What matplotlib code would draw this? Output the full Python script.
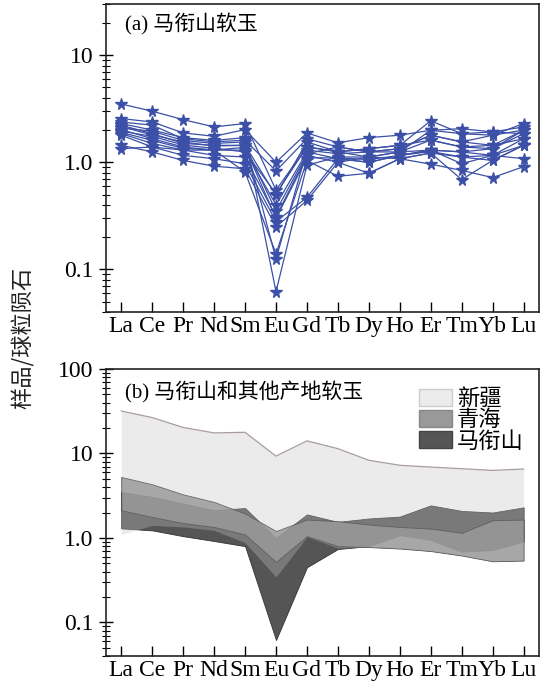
import matplotlib.pyplot as plt
from matplotlib.patches import Patch
from matplotlib.ticker import FixedLocator, FixedFormatter, LogLocator, NullFormatter

plt.rcParams['font.family'] = ['Liberation Serif', 'Noto Sans CJK SC']

elements = ["La", "Ce", "Pr", "Nd", "Sm", "Eu", "Gd", "Tb", "Dy", "Ho", "Er", "Tm", "Yb", "Lu"]

# (a) 马衔山软玉 sample values (chondrite normalized)
samples = [
    [3.5, 3.0, 2.5, 2.14, 2.3, 0.55, 1.4, 1.25, 1.34, 1.44, 2.44, 1.85, 1.79, 2.3],
    [2.56, 2.38, 1.88, 1.75, 2.02, 1.0, 1.88, 1.52, 1.7, 1.79, 1.99, 2.06, 1.92, 2.14],
    [2.38, 2.22, 1.66, 1.55, 1.61, 0.83, 1.66, 1.39, 1.25, 1.34, 1.79, 1.55, 1.44, 1.99],
    [2.22, 1.85, 1.5, 1.44, 1.44, 0.49, 1.55, 1.25, 1.12, 1.25, 1.61, 1.39, 1.34, 1.85],
    [2.02, 1.66, 1.39, 1.3, 1.3, 0.4, 1.25, 1.08, 1.0, 1.16, 1.3, 1.25, 1.16, 1.66],
    [1.85, 1.5, 1.3, 1.16, 1.12, 0.31, 1.16, 1.0, 1.12, 1.08, 1.22, 1.12, 1.04, 1.44],
    [1.79, 1.39, 1.16, 1.08, 0.97, 0.28, 0.47, 1.08, 1.0, 1.16, 1.3, 0.97, 1.16, 1.08],
    [1.44, 1.25, 1.04, 0.92, 0.87, 0.25, 0.44, 1.0, 0.79, 1.08, 0.96, 0.84, 0.72, 0.91],
    [1.34, 1.39, 1.3, 1.3, 0.81, 0.14, 1.04, 0.74, 0.79, 1.08, 1.22, 0.69, 1.04, 1.44],
    [2.1, 1.95, 1.6, 1.5, 1.55, 0.125, 1.3, 1.2, 1.25, 1.34, 1.79, 1.55, 1.79, 2.0],
    [2.3, 2.0, 1.7, 1.6, 1.7, 0.062, 0.94, 1.12, 1.12, 1.25, 1.99, 1.85, 1.92, 1.85],
    [1.95, 1.75, 1.45, 1.35, 1.25, 0.51, 1.39, 1.25, 1.34, 1.44, 1.61, 1.39, 1.44, 1.66],
    [2.15, 1.8, 1.55, 1.42, 1.44, 0.35, 1.2, 1.39, 1.25, 1.25, 1.3, 1.25, 1.34, 1.99],
    [1.9, 1.6, 1.35, 1.3, 1.38, 0.3, 1.1, 1.1, 1.06, 1.16, 1.26, 1.12, 1.16, 1.44],
]

# (b) ranges
xinjiang_hi = [31.8, 26.6, 20.3, 17.5, 17.8, 9.3, 14.1, 11.4, 8.3, 7.25, 6.9, 6.6, 6.3, 6.55]
xinjiang_lo = [1.10, 1.41, 1.35, 1.23, 0.88, 0.345, 1.03, 0.76, 0.78, 0.75, 0.70, 0.62, 0.53, 0.54]
qinghai_hi = [5.27, 4.32, 3.28, 2.67, 1.95, 1.21, 1.65, 1.58, 1.44, 1.35, 1.29, 1.15, 1.62, 1.65]
qinghai_lo = [2.13, 1.77, 1.50, 1.35, 1.10, 0.52, 1.05, 0.80, 0.78, 0.75, 0.70, 0.62, 0.53, 0.54]
maxianshan_hi = [3.5, 3.06, 2.55, 2.13, 2.26, 1.0, 1.9, 1.55, 1.70, 1.79, 2.43, 2.09, 2.0, 2.3]
maxianshan_lo = [1.3, 1.23, 1.05, 0.92, 0.80, 0.062, 0.45, 0.74, 0.80, 1.08, 0.95, 0.69, 0.72, 0.91]

x = list(range(len(elements)))
blue = "#3b50a6"


def style_axis(ax, ymax, yticks, ylabels):
    ax.set_yscale("log")
    ax.set_xlim(-0.5, 13.5)
    ax.set_ylim(0.04, ymax)
    ax.set_xticks(x)
    ax.set_xticklabels(elements)
    ax.yaxis.set_major_locator(FixedLocator(yticks))
    ax.yaxis.set_major_formatter(FixedFormatter(ylabels))
    ax.yaxis.set_minor_locator(LogLocator(base=10, subs=range(2, 10)))
    ax.yaxis.set_minor_formatter(NullFormatter())
    ax.tick_params(axis="x", direction="in", length=7, width=1, labelsize=17, pad=3, top=False)
    ax.tick_params(axis="y", which="major", direction="inout", length=10, width=1, labelsize=17, pad=4, right=False)
    ax.tick_params(axis="y", which="minor", direction="inout", length=6, width=0.8, right=False)
    for sp in ax.spines.values():
        sp.set_linewidth(1.2)
        sp.set_color("#222222")


fig = plt.figure(figsize=(5.54, 6.82), dpi=100)
ax1 = fig.add_axes([0.191, 0.5425, 0.782, 0.4515])
ax2 = fig.add_axes([0.191, 0.038, 0.782, 0.421])

for s in samples:
    ax1.plot(x, s, "-", color=blue, lw=0.9, marker="*", ms=8.5, mfc=blue, mec=blue)
style_axis(ax1, 30, [0.1, 1, 10], ["0.1", "1.0", "10"])
ax1.text(0.045, 0.97, "(a) 马衔山软玉", transform=ax1.transAxes, fontsize=15, va="top", ha="left")

# bands
ax2.fill_between(x, maxianshan_lo, maxianshan_hi, color="#555555", lw=0.6, edgecolor="#333333", zorder=1)
ax2.fill_between(x, qinghai_lo, qinghai_hi, color="#858585", alpha=0.83, lw=0.6, edgecolor="#222222", zorder=2)
ax2.fill_between(x, xinjiang_lo, xinjiang_hi, color="#c5c5c5", alpha=0.33, lw=0, zorder=3)
ax2.plot(x, xinjiang_hi, color="#a89c9c", lw=0.9, zorder=4)
style_axis(ax2, 100, [0.1, 1, 10, 100], ["0.1", "1.0", "10", "100"])
ax2.text(0.045, 0.955, "(b) 马衔山和其他产地软玉", transform=ax2.transAxes, fontsize=15, va="top", ha="left")

handles = [
    Patch(facecolor="#ececec", edgecolor="#cccccc", label="新疆"),
    Patch(facecolor="#999999", edgecolor="#888888", label="青海"),
    Patch(facecolor="#555555", edgecolor="#444444", label="马衔山"),
]
ax2.legend(handles=handles, loc="upper right", bbox_to_anchor=(1.0, 0.985), frameon=False,
           fontsize=16, handlelength=1.5, handleheight=0.8, labelspacing=0.0,
           handletextpad=0.2, borderaxespad=0.3)

fig.text(0.042, 0.505, "样品/球粒陨石", rotation=90, fontsize=16, ha="center", va="center",
         family=["Noto Sans CJK SC", "DejaVu Sans"], color="#222222")

fig.savefig("out.png", dpi=100)
